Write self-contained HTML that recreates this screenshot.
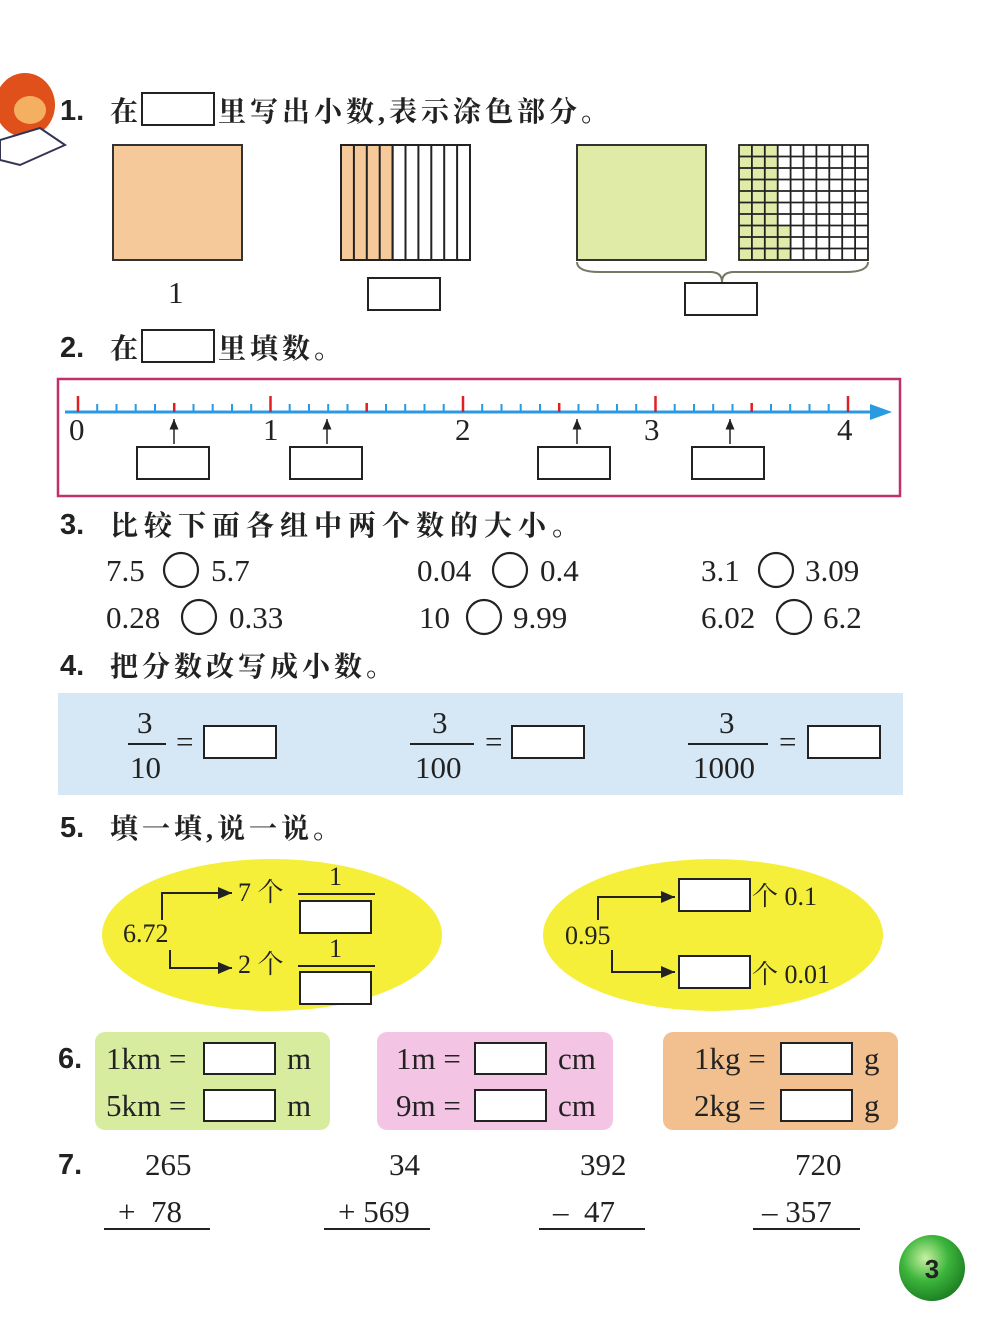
<!DOCTYPE html>
<html><head><meta charset="utf-8"><style>
html,body{margin:0;padding:0;background:#fff}
svg{display:block}
.h{font-family:"Liberation Sans",sans-serif;font-size:29px;fill:#222;font-weight:bold}
.c{font-family:"Liberation Serif","Noto Serif CJK SC",serif;font-size:28px;fill:#222;font-weight:bold}
.n{font-family:"Liberation Serif","Noto Serif CJK SC",serif;font-size:31px;fill:#222}
.s{font-family:"Liberation Serif","Noto Serif CJK SC",serif;font-size:26px;fill:#222}
</style></head><body>
<svg width="1000" height="1336" viewBox="0 0 1000 1336" xmlns="http://www.w3.org/2000/svg">
<defs><marker id="ar" markerWidth="8" markerHeight="8" refX="7" refY="4" orient="auto"><path d="M0,1 L7,4 L0,7 Z" fill="#222"/></marker>
<radialGradient id="g" cx="0.4" cy="0.35" r="0.7"><stop offset="0" stop-color="#c8f0a0"/><stop offset="0.5" stop-color="#3cb53c"/><stop offset="1" stop-color="#1a7a20"/></radialGradient></defs>
<!-- monkey -->
<ellipse cx="25" cy="105" rx="30" ry="32" fill="#e0501a"/>
<ellipse cx="30" cy="110" rx="16" ry="14" fill="#f4b060"/>
<path d="M0,140 L40,128 L65,145 L20,165 L0,160Z" fill="#fff" stroke="#335" stroke-width="2"/>
<!-- 1 -->
<text x="60" y="120" class="h">1.</text>
<text x="110" y="121" class="c">在</text>
<rect x="142" y="93" width="72" height="32" fill="#fff" stroke="#222" stroke-width="2"/>
<text x="218" y="121" class="c" letter-spacing="4">里写出小数,表示涂色部分。</text>
<rect x="113" y="145" width="129" height="115" fill="#f5c99a" stroke="#333" stroke-width="2"/>
<text x="168" y="303" class="n">1</text>
<g stroke="#222" stroke-width="2">
<rect x="341" y="145" width="51.6" height="115" fill="#f5c99a"/>
<rect x="341" y="145" width="129" height="115" fill="none"/>
<path d="M353.9,145V260M366.8,145V260M379.7,145V260M392.6,145V260M405.5,145V260M418.4,145V260M431.3,145V260M444.2,145V260M457.1,145V260"/>
</g>
<rect x="368" y="278" width="72" height="32" fill="#fff" stroke="#222" stroke-width="2"/>
<rect x="577" y="145" width="129" height="115" fill="#e0eba8" stroke="#333" stroke-width="2"/>
<rect x="739" y="145" width="38.7" height="115" fill="#e0eba8"/>
<rect x="777.7" y="225.5" width="12.9" height="34.5" fill="#e0eba8"/>
<g stroke="#222" stroke-width="1.8" fill="none">
<rect x="739" y="145" width="129" height="115"/>
<path d="M751.9,145V260M764.8,145V260M777.7,145V260M790.6,145V260M803.5,145V260M816.4,145V260M829.3,145V260M842.2,145V260M855.1,145V260"/>
<path d="M739,156.5H868M739,168H868M739,179.5H868M739,191H868M739,202.5H868M739,214H868M739,225.5H868M739,237H868M739,248.5H868"/>
</g>
<path d="M577,262 Q577,272 600,272 L710,272 Q722,272 722,282 Q722,272 734,272 L845,272 Q868,272 868,262" fill="none" stroke="#776" stroke-width="2"/>
<rect x="685" y="283" width="72" height="32" fill="#fff" stroke="#222" stroke-width="2"/>
<!-- 2 -->
<text x="60" y="357" class="h">2.</text>
<text x="110" y="358" class="c">在</text>
<rect x="142" y="330" width="72" height="32" fill="#fff" stroke="#222" stroke-width="2"/>
<text x="218" y="358" class="c" letter-spacing="4">里填数。</text>
<rect x="58" y="379" width="842" height="117" fill="#fff" stroke="#c0306a" stroke-width="2.5"/>
<line x1="65" y1="412" x2="875" y2="412" stroke="#2a9be0" stroke-width="3"/>
<path d="M870,404 L892,412 L870,420Z" fill="#2a9be0"/>
<g stroke="#2a9be0" stroke-width="2">
<path d="M97.2,404V412M116.5,404V412M135.7,404V412M155,404V412M193.5,404V412M212.7,404V412M232,404V412M251.2,404V412M289.7,404V412M309,404V412M328.2,404V412M347.5,404V412M386,404V412M405.2,404V412M424.5,404V412M443.7,404V412M482.2,404V412M501.5,404V412M520.7,404V412M540,404V412M578.5,404V412M597.7,404V412M617,404V412M636.2,404V412M674.7,404V412M694,404V412M713.2,404V412M732.5,404V412M771,404V412M790.2,404V412M809.5,404V412M828.7,404V412"/>
</g>
<g stroke="#e02020" stroke-width="2.5">
<path d="M78,396V412M270.5,396V412M463,396V412M655.5,396V412M848,396V412"/>
<path d="M174.2,403V412M366.7,403V412M559.2,403V412M751.7,403V412"/>
</g>
<text x="69" y="440" class="n" font-size="27">0</text><text x="263" y="440" class="n" font-size="27">1</text><text x="455" y="440" class="n" font-size="27">2</text><text x="644" y="440" class="n" font-size="27">3</text><text x="837" y="440" class="n" font-size="27">4</text>
<g stroke="#222" stroke-width="1.5" marker-end="url(#ar)">
<line x1="174" y1="444" x2="174" y2="419"/><line x1="327" y1="444" x2="327" y2="419"/><line x1="577" y1="444" x2="577" y2="419"/><line x1="730" y1="444" x2="730" y2="419"/>
</g>
<g fill="#fff" stroke="#222" stroke-width="2">
<rect x="137" y="447" width="72" height="32"/><rect x="290" y="447" width="72" height="32"/><rect x="538" y="447" width="72" height="32"/><rect x="692" y="447" width="72" height="32"/>
</g>
<!-- 3 -->
<text x="60" y="534" class="h">3.</text>
<text x="110" y="535" class="c" letter-spacing="6">比较下面各组中两个数的大小。</text>
<g class="n">
<text x="106" y="581">7.5</text><text x="211" y="581">5.7</text>
<text x="417" y="581">0.04</text><text x="540" y="581">0.4</text>
<text x="701" y="581">3.1</text><text x="805" y="581">3.09</text>
<text x="106" y="628">0.28</text><text x="229" y="628">0.33</text>
<text x="419" y="628">10</text><text x="513" y="628">9.99</text>
<text x="701" y="628">6.02</text><text x="823" y="628">6.2</text>
</g>
<g fill="none" stroke="#222" stroke-width="2.2">
<circle cx="181" cy="570" r="17"/><circle cx="510" cy="570" r="17"/><circle cx="776" cy="570" r="17"/>
<circle cx="199" cy="617" r="17"/><circle cx="484" cy="617" r="17"/><circle cx="794" cy="617" r="17"/>
</g>
<!-- 4 -->
<text x="60" y="675" class="h">4.</text>
<text x="110" y="676" class="c" letter-spacing="4">把分数改写成小数。</text>
<rect x="58" y="693" width="845" height="102" fill="#d6e8f5"/>
<g class="n">
<text x="137" y="733">3</text><text x="130" y="778">10</text>
<text x="432" y="733">3</text><text x="415" y="778">100</text>
<text x="719" y="733">3</text><text x="693" y="778">1000</text>
</g>
<g stroke="#222" stroke-width="2"><line x1="128" y1="744" x2="166" y2="744"/><line x1="410" y1="744" x2="474" y2="744"/><line x1="688" y1="744" x2="768" y2="744"/></g>
<g class="n"><text x="176" y="752">=</text><text x="485" y="752">=</text><text x="779" y="752">=</text></g>
<g fill="#fff" stroke="#222" stroke-width="2"><rect x="204" y="726" width="72" height="32"/><rect x="512" y="726" width="72" height="32"/><rect x="808" y="726" width="72" height="32"/></g>
<!-- 5 -->
<text x="60" y="837" class="h">5.</text>
<text x="110" y="838" class="c" letter-spacing="4">填一填,说一说。</text>
<ellipse cx="272" cy="935" rx="170" ry="76" fill="#f5ef3a"/>
<ellipse cx="713" cy="935" rx="170" ry="76" fill="#f5ef3a"/>
<g class="s">
<text x="123" y="942">6.72</text>
<text x="238" y="901">7 个</text><text x="238" y="973">2 个</text>
<text x="329" y="885">1</text><text x="329" y="957">1</text>
<text x="565" y="944">0.95</text>
<text x="752" y="905">个 0.1</text><text x="752" y="983">个 0.01</text>
</g>
<g stroke="#222" stroke-width="2" fill="none">
<line x1="298" y1="894" x2="375" y2="894"/><line x1="298" y1="966" x2="375" y2="966"/>
<path d="M162,920 V893 H232" marker-end="url(#ar)"/><path d="M170,950 V968 H232" marker-end="url(#ar)"/>
<path d="M598,920 V897 H675" marker-end="url(#ar)"/><path d="M612,950 V972 H675" marker-end="url(#ar)"/>
</g>
<g fill="#fff" stroke="#222" stroke-width="2">
<rect x="300" y="901" width="71" height="32"/><rect x="300" y="972" width="71" height="32"/>
<rect x="679" y="879" width="71" height="32"/><rect x="679" y="956" width="71" height="32"/>
</g>
<!-- 6 -->
<text x="58" y="1068" class="h">6.</text>
<rect x="95" y="1032" width="235" height="98" rx="10" fill="#d8eca0"/>
<rect x="377" y="1032" width="236" height="98" rx="10" fill="#f4c4e4"/>
<rect x="663" y="1032" width="235" height="98" rx="10" fill="#f2c08e"/>
<g class="n">
<text x="106" y="1069">1km =</text><text x="106" y="1116">5km =</text><text x="287" y="1069">m</text><text x="287" y="1116">m</text>
<text x="396" y="1069">1m =</text><text x="396" y="1116">9m =</text><text x="558" y="1069">cm</text><text x="558" y="1116">cm</text>
<text x="694" y="1069">1kg =</text><text x="694" y="1116">2kg =</text><text x="864" y="1069">g</text><text x="864" y="1116">g</text>
</g>
<g fill="#fff" stroke="#222" stroke-width="2">
<rect x="204" y="1043" width="71" height="31"/><rect x="204" y="1090" width="71" height="31"/>
<rect x="475" y="1043" width="71" height="31"/><rect x="475" y="1090" width="71" height="31"/>
<rect x="781" y="1043" width="71" height="31"/><rect x="781" y="1090" width="71" height="31"/>
</g>
<!-- 7 -->
<text x="58" y="1174" class="h">7.</text>
<g class="n">
<text x="145" y="1175">265</text><text x="118" y="1222">+&#160;&#160;78</text>
<text x="389" y="1175">34</text><text x="338" y="1222">+ 569</text>
<text x="580" y="1175">392</text><text x="553" y="1222">–&#160;&#160;47</text>
<text x="795" y="1175">720</text><text x="762" y="1222">– 357</text>
</g>
<g stroke="#222" stroke-width="2"><line x1="104" y1="1229" x2="210" y2="1229"/><line x1="324" y1="1229" x2="430" y2="1229"/><line x1="539" y1="1229" x2="645" y2="1229"/><line x1="753" y1="1229" x2="860" y2="1229"/></g>
<circle cx="932" cy="1268" r="33" fill="url(#g)"/>
<text x="932" y="1278" text-anchor="middle" font-family="Liberation Sans,sans-serif" font-weight="bold" font-size="26" fill="#222">3</text>
</svg>
</body></html>
